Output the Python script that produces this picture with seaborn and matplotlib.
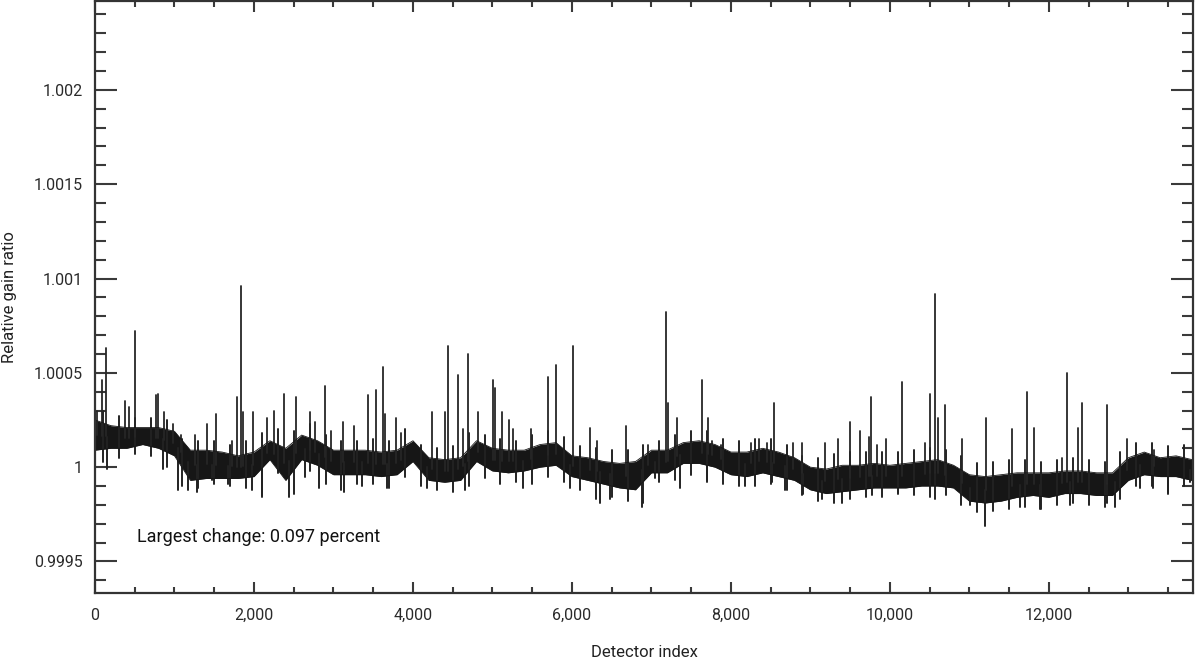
import numpy as np
import pandas as pd
import matplotlib
matplotlib.use("Agg")
import matplotlib.pyplot as plt
import seaborn as sns
from matplotlib.ticker import MultipleLocator, FuncFormatter

# ---------------- data ----------------
# dense noisy band: detector index knots, upper and lower edge of the dense core
band_index = [0, 200, 400, 600, 800, 1000, 1200, 1400, 1600, 1800,
              2000, 2200, 2400, 2600, 2800, 3000, 3200, 3400, 3600, 3800,
              4000, 4200, 4400, 4600, 4800, 5000, 5200, 5400, 5600, 5800,
              6000, 6200, 6400, 6600, 6800, 7000, 7200, 7400, 7600, 7800,
              8000, 8200, 8400, 8600, 8800, 9000, 9200, 9400, 9600, 9800,
              10000, 10200, 10400, 10600, 10800, 11000, 11200, 11400, 11600, 11800,
              12000, 12200, 12400, 12600, 12800, 13000, 13200, 13400, 13600, 13800]
band_upper = [1.00025, 1.00022, 1.00021, 1.00021, 1.00021, 1.00019, 1.00009, 1.00009, 1.00008, 1.00006,
              1.00008, 1.00014, 1.00010, 1.00017, 1.00014, 1.00009, 1.00009, 1.00009, 1.00008, 1.00009,
              1.00014, 1.00005, 1.00004, 1.00005, 1.00014, 1.00010, 1.00009, 1.00009, 1.00012, 1.00013,
              1.00006, 1.00005, 1.00003, 1.00002, 1.00003, 1.00009, 1.00009, 1.00013, 1.00014, 1.00012,
              1.00008, 1.00008, 1.00010, 1.00008, 1.00005, 1.00000, 0.99999, 1.00001, 1.00001, 1.00002,
              1.00001, 1.00002, 1.00003, 1.00004, 1.00001, 0.99996, 0.99995, 0.99996, 0.99997, 0.99997,
              0.99997, 0.99998, 0.99998, 0.99997, 0.99997, 1.00005, 1.00008, 1.00005, 1.00006, 1.00004]
band_lower = [1.00009, 1.00010, 1.00010, 1.00012, 1.00010, 1.00006, 0.99993, 0.99994, 0.99994, 0.99994,
              0.99995, 1.00004, 0.99993, 1.00004, 1.00001, 0.99996, 0.99996, 0.99996, 0.99995, 0.99996,
              1.00003, 0.99993, 0.99992, 0.99993, 1.00003, 0.99998, 0.99997, 0.99998, 1.00000, 1.00001,
              0.99995, 0.99993, 0.99991, 0.99989, 0.99988, 0.99997, 0.99997, 1.00002, 1.00002, 1.00000,
              0.99996, 0.99995, 0.99997, 0.99995, 0.99993, 0.99988, 0.99986, 0.99987, 0.99988, 0.99989,
              0.99989, 0.99989, 0.99990, 0.99990, 0.99989, 0.99982, 0.99981, 0.99982, 0.99984, 0.99985,
              0.99984, 0.99986, 0.99986, 0.99985, 0.99985, 0.99993, 0.99996, 0.99995, 0.99995, 0.99993]

# extremes of the noise between the knots (highest / lowest ordinary value)
noise_index = [100, 300, 500, 700, 900, 1100, 1300, 1500, 1700, 1900,
               2100, 2300, 2500, 2700, 2900, 3100, 3300, 3500, 3700, 3900,
               4100, 4300, 4500, 4700, 4900, 5100, 5300, 5500, 5700, 5900,
               6100, 6300, 6500, 6700, 6900, 7100, 7300, 7500, 7700, 7900,
               8100, 8300, 8500, 8700, 8900, 9100, 9300, 9500, 9700, 9900,
               10100, 10300, 10500, 10700, 10900, 11100, 11300, 11500, 11700, 11900,
               12100, 12300, 12500, 12700, 12900, 13100, 13300, 13500, 13700]
noise_high = [1.00030, 1.00027, 1.00026, 1.00026, 1.00025, 1.00015, 1.00014, 1.00014, 1.00012, 1.00014,
              1.00018, 1.00020, 1.00019, 1.00023, 1.00017, 1.00014, 1.00014, 1.00015, 1.00014, 1.00020,
              1.00012, 1.00010, 1.00011, 1.00018, 1.00017, 1.00015, 1.00014, 1.00017, 1.00019, 1.00016,
              1.00011, 1.00010, 1.00009, 1.00009, 1.00012, 1.00014, 1.00017, 1.00019, 1.00019, 1.00015,
              1.00014, 1.00015, 1.00015, 1.00012, 1.00006, 1.00005, 1.00007, 1.00008, 1.00008, 1.00008,
              1.00008, 1.00009, 1.00010, 1.00009, 1.00006, 1.00002, 1.00003, 1.00004, 1.00004, 1.00003,
              1.00004, 1.00005, 1.00004, 1.00003, 1.00008, 1.00013, 1.00013, 1.00011, 1.00012]
noise_low = [1.00003, 1.00005, 1.00007, 1.00006, 1.00000, 0.99990, 0.99989, 0.99991, 0.99990, 0.99989,
             0.99985, 0.99997, 0.99986, 0.99998, 0.99991, 0.99988, 0.99991, 0.99991, 0.99989, 0.99995,
             0.99990, 0.99988, 0.99987, 0.99990, 0.99994, 0.99991, 0.99992, 0.99991, 0.99995, 0.99992,
             0.99988, 0.99983, 0.99984, 0.99982, 0.99981, 0.99992, 0.99993, 0.99996, 0.99993, 0.99991,
             0.99990, 0.99990, 0.99991, 0.99988, 0.99985, 0.99982, 0.99981, 0.99983, 0.99984, 0.99984,
             0.99986, 0.99985, 0.99984, 0.99985, 0.99980, 0.99976, 0.99977, 0.99978, 0.99979, 0.99978,
             0.99980, 0.99981, 0.99980, 0.99979, 0.99983, 0.99990, 0.99990, 0.99987, 0.99990]

# upward spikes: detector index and peak value
spike_index = [25, 88, 138, 377, 428, 503, 767, 793, 868, 981,
               1082, 1258, 1409, 1522, 1723, 1786, 1837, 1862, 1988, 2164,
               2252, 2378, 2529, 2705, 2768, 2894, 2969, 3120, 3258, 3434,
               3535, 3623, 3648, 3787, 3849, 4239, 4403, 4441, 4567, 4629,
               4692, 4818, 5007, 5032, 5120, 5208, 5258, 5485, 5699, 5799,
               6013, 6227, 6315, 6680, 6957, 7183, 7208, 7322, 7636, 7712,
               7762, 7875, 8252, 8353, 8454, 8542, 8781, 8894, 9183, 9347,
               9498, 9624, 9737, 9762, 9838, 9951, 10152, 10441, 10504, 10567,
               10605, 10693, 10907, 11209, 11536, 11725, 11813, 12165, 12228, 12366,
               12416, 12731, 12983, 13322]
spike_value = [1.00030, 1.00046, 1.00063, 1.00035, 1.00032, 1.00072, 1.00038, 1.00039, 1.00029, 1.00023,
               1.00017, 1.00017, 1.00023, 1.00028, 1.00014, 1.00037, 1.00096, 1.00029, 1.00029, 1.00026,
               1.00030, 1.00039, 1.00037, 1.00029, 1.00024, 1.00043, 1.00019, 1.00024, 1.00022, 1.00038,
               1.00041, 1.00053, 1.00028, 1.00026, 1.00018, 1.00029, 1.00029, 1.00064, 1.00049, 1.00020,
               1.00060, 1.00029, 1.00046, 1.00042, 1.00029, 1.00025, 1.00020, 1.00020, 1.00048, 1.00054,
               1.00064, 1.00021, 1.00014, 1.00022, 1.00012, 1.00082, 1.00034, 1.00026, 1.00046, 1.00026,
               1.00014, 1.00012, 1.00013, 1.00015, 1.00013, 1.00034, 1.00013, 1.00013, 1.00013, 1.00015,
               1.00024, 1.00019, 1.00016, 1.00037, 1.00012, 1.00015, 1.00045, 1.00013, 1.00039, 1.00092,
               1.00026, 1.00033, 1.00015, 1.00026, 1.00020, 1.00040, 1.00021, 1.00005, 1.00050, 1.00021,
               1.00034, 1.00033, 1.00015, 1.00009]

# downward excursions: detector index and lowest value
dip_index = [151, 855, 1044, 1170, 1283, 1472, 1673, 1975, 2101, 2441,
             2642, 2818, 3132, 3359, 3673, 4177, 4655, 5384, 5976, 6353,
             6479, 6881, 7045, 7359, 7699, 8177, 8517, 8680, 8907, 9146,
             9397, 9775, 10102, 10567, 11008, 11196, 11637, 11888, 12266, 12731,
             12832, 13146, 13310, 13499, 13780]
dip_value = [0.99999, 0.99999, 0.99988, 0.99988, 0.99987, 0.99993, 0.99991, 0.99988, 0.99984, 0.99984,
             0.99995, 0.99989, 0.99987, 0.99990, 0.99989, 0.99989, 0.99988, 0.99989, 0.99989, 0.99981,
             0.99983, 0.99979, 0.99994, 0.99989, 0.99992, 0.99990, 0.99992, 0.99988, 0.99986, 0.99983,
             0.99981, 0.99985, 0.99987, 0.99983, 0.99980, 0.99969, 0.99979, 0.99978, 0.99980, 0.99981,
             0.99979, 0.99989, 0.99989, 0.99986, 0.99992]

x_label = "Detector index"
y_label = "Relative gain ratio"
note_text = "Largest change: 0.097 percent"

# ---------------- drawing ----------------
sns.set_style("ticks")
plt.rcParams["font.family"] = ["Roboto", "DejaVu Sans"]

fig = plt.figure(figsize=(11.95, 6.6), dpi=100)
ax = fig.add_axes([95 / 1195, 67 / 660, 1098 / 1195, 592 / 660])

bi = np.array(band_index, dtype=float)
bu = np.array(band_upper)
bl = np.array(band_lower)
bc = (bu + bl) / 2

line_color = "#161616"

# spikes, dips and noise extremes as vertical segments
rows = []
uid = 0
for xi, v in zip(spike_index, spike_value):
    rows.append((uid, xi, np.interp(xi, bi, bc), "spike"))
    rows.append((uid, xi, v, "spike"))
    uid += 1
for xi, v in zip(dip_index, dip_value):
    rows.append((uid, xi, np.interp(xi, bi, bc), "dip"))
    rows.append((uid, xi, v, "dip"))
    uid += 1
for xi, hi, lo in zip(noise_index, noise_high, noise_low):
    rows.append((uid, xi, hi, "noise"))
    rows.append((uid, xi, lo, "noise"))
    uid += 1
seg = pd.DataFrame(rows, columns=["uid", "idx", "val", "kind"])

sns.lineplot(data=seg[seg.kind != "spike"], x="idx", y="val", units="uid",
             estimator=None, sort=False, color="#222222", lw=1.4, ax=ax, legend=False)
sns.lineplot(data=seg[seg.kind == "spike"], x="idx", y="val", units="uid",
             estimator=None, sort=False, color="#262626", lw=1.3, ax=ax, legend=False)

ax.fill_between(bi, bl, bu, color=line_color, lw=0)
band_df = pd.DataFrame({"idx": bi, "upper": bu, "lower": bl})
sns.lineplot(data=band_df, x="idx", y="upper", color=line_color, lw=0.6, ax=ax)
sns.lineplot(data=band_df, x="idx", y="lower", color=line_color, lw=0.6, ax=ax)

ax.set_xlim(0, 13813)
ax.set_ylim(0.999333, 1.002471)

ax.xaxis.set_major_locator(MultipleLocator(2000))
ax.xaxis.set_minor_locator(MultipleLocator(500))
ax.yaxis.set_major_locator(MultipleLocator(0.0005))
ax.yaxis.set_minor_locator(MultipleLocator(0.0001))
ax.xaxis.set_major_formatter(FuncFormatter(lambda v, p: f"{int(round(v)):,}"))
ax.yaxis.set_major_formatter(FuncFormatter(lambda v, p: f"{round(v, 5):g}"))

tick_col = "#3a3a3a"
ax.tick_params(axis="y", which="major", direction="in", length=16, width=1.5,
               left=True, right=True, labelsize=11.5, pad=9, colors=tick_col)
ax.tick_params(axis="y", which="minor", direction="in", length=8, width=1.5,
               left=True, right=True, colors=tick_col)
ax.tick_params(axis="x", which="major", direction="in", length=8, width=1.5,
               bottom=True, top=True, labelsize=11.5, pad=11, colors=tick_col)
ax.tick_params(axis="x", which="minor", direction="in", length=4, width=1.5,
               bottom=True, top=True, colors=tick_col)
for lab in ax.get_xticklabels() + ax.get_yticklabels():
    lab.set_color("#2a2a2a")

for s in ax.spines.values():
    s.set_visible(True)
    s.set_linewidth(1.6)
    s.set_color("#333333")

ax.set_xlabel(x_label, fontsize=12, color="#222222")
ax.set_ylabel(y_label, fontsize=12, color="#222222")
ax.xaxis.set_label_coords(0.5, -0.088)
ax.yaxis.set_label_coords(-0.071, 0.5)

ax.text(528, 0.99963, note_text, fontsize=13, color="#111111",
        ha="left", va="center")

fig.savefig("out.png", dpi=100)
